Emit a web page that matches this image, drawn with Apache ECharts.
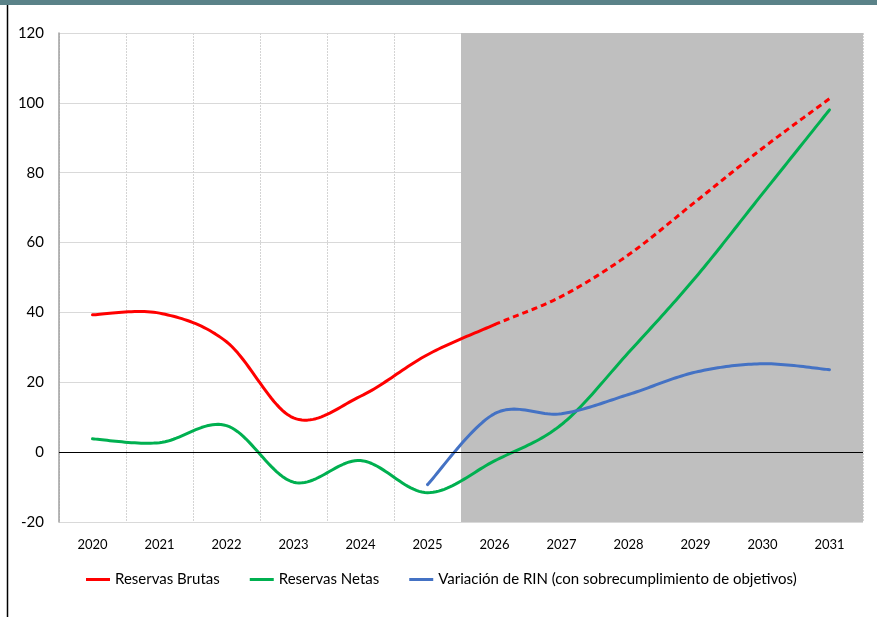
<!DOCTYPE html>
<html>
<head>
<meta charset="utf-8">
<script src="https://cdn.jsdelivr.net/npm/echarts@6/dist/echarts.min.js"></script>
<style>
  html, body { margin: 0; padding: 0; background: #ffffff; }
  #chart { width: 877px; height: 617px; }
</style>
</head>
<body>
<div id="chart"></div>
<script>
// Years on the horizontal axis
const years = ['2020', '2021', '2022', '2023', '2024', '2025', '2026', '2027', '2028', '2029', '2030', '2031'];
// First year of the projection period (shaded)
const projectionStart = '2026';
// Last observed year of gross reserves (solid line ends here, dashed after)
const brutasSolidEnd = '2026';

// Gross reserves
const reservasBrutas = [39.3, 39.8, 31.6, 9.8, 16.0, 27.9, 36.5, 44.6, 56.5, 71.7, 87.0, 101.2];
// Net reserves
const reservasNetas = [3.8, 2.7, 7.6, -8.6, -2.4, -11.6, -2.5, 7.9, 28.5, 50.0, 74.0, 98.0];
// Change in NIR (with over-compliance of targets)
const variacionRIN = [null, null, null, null, null, -9.3, 11.0, 11.0, 16.5, 22.9, 25.3, 23.6];

// Y axis range
const yMin = -20, yMax = 120, yStep = 20;

const font = 'Lato, "Open Sans", sans-serif';
const cut = years.indexOf(brutasSolidEnd);
const shadeFrom = years.indexOf(projectionStart);

// [index, value] pairs, skipping missing years
function toPairs(values) {
  const out = [];
  values.forEach((v, i) => { if (v !== null) out.push([i, v]); });
  return out;
}

// Sample a Catmull-Rom style cubic Bezier through pixel points,
// covering the segments from point `from` to point `to`.
function curvePoints(pts, from, to) {
  const n = pts.length;
  const out = [];
  const steps = 24;
  for (let i = from; i < to; i++) {
    const p0 = pts[i > 0 ? i - 1 : i];
    const p1 = pts[i];
    const p2 = pts[i + 1];
    const p3 = pts[i + 2 < n ? i + 2 : i + 1];
    const c1 = [p1[0] + (p2[0] - p0[0]) / 6, p1[1] + (p2[1] - p0[1]) / 6];
    const c2 = [p2[0] - (p3[0] - p1[0]) / 6, p2[1] - (p3[1] - p1[1]) / 6];
    for (let s = (i === from ? 0 : 1); s <= steps; s++) {
      const t = s / steps, u = 1 - t;
      const a = u * u * u, b = 3 * u * u * t, c = 3 * u * t * t, d = t * t * t;
      out.push([
        a * p1[0] + b * c1[0] + c * c2[0] + d * p2[0],
        a * p1[1] + b * c1[1] + c * c2[1] + d * p2[1]
      ]);
    }
  }
  return out;
}

// Smooth line drawn as a custom series; `dashFrom` marks where the dashed part begins
function smoothSeries(name, values, color, dashFrom) {
  const pairs = toPairs(values);
  return {
    name: name,
    type: 'custom',
    data: pairs,
    encode: { x: 0, y: 1 },
    z: 3,
    itemStyle: { color: color },
    renderItem: function (params, api) {
      if (params.dataIndex !== 0) return null;
      const pts = pairs.map(p => api.coord(p));
      const last = pts.length - 1;
      const split = dashFrom == null ? last : pairs.findIndex(p => p[0] === dashFrom);
      const children = [{
        type: 'polyline',
        silent: true,
        shape: { points: curvePoints(pts, 0, split) },
        style: { stroke: color, lineWidth: 3, fill: null, lineJoin: 'round', lineCap: 'round' }
      }];
      if (split < last) {
        children.push({
          type: 'polyline',
          silent: true,
          shape: { points: curvePoints(pts, split, last) },
          style: { stroke: color, lineWidth: 3, fill: null, lineDash: [6, 4], lineJoin: 'round' }
        });
      }
      return { type: 'group', children: children };
    }
  };
}

const chart = echarts.init(document.getElementById('chart'), null, { renderer: 'canvas' });

chart.setOption({
  animation: false,
  backgroundColor: '#ffffff',
  graphic: [
    { type: 'rect', left: 0, top: 0, shape: { width: 877, height: 5 }, style: { fill: '#5a8288' }, z: 10 },
    { type: 'line', shape: { x1: 7.5, y1: 5, x2: 7.5, y2: 617 }, style: { stroke: '#000000', lineWidth: 1.5 }, z: 10 }
  ],
  grid: { left: 59, right: 14, top: 33, bottom: 95, containLabel: false },
  legend: {
    left: 86,
    top: 572,
    padding: 0,
    itemWidth: 24,
    itemHeight: 3,
    itemGap: 30,
    icon: 'rect',
    textStyle: { fontFamily: font, fontSize: 15, color: '#000000' },
    data: ['Reservas Brutas', 'Reservas Netas', 'Variación de RIN (con sobrecumplimiento de objetivos)']
  },
  xAxis: [
    {
      type: 'category',
      data: years,
      boundaryGap: true,
      axisLine: { show: false },
      axisTick: { show: false },
      axisLabel: { fontFamily: font, fontSize: 13, color: '#000000', margin: 16 },
      splitLine: { show: true, lineStyle: { color: '#d4d4d4', type: [2, 1], width: 1 } }
    },
    {
      // band index scale used for the shaded projection area
      type: 'value',
      min: 0,
      max: years.length,
      show: false
    }
  ],
  yAxis: {
    type: 'value',
    min: yMin,
    max: yMax,
    interval: yStep,
    axisLine: { show: true, lineStyle: { color: '#a0a0a0', width: 1.5 } },
    axisTick: { show: false },
    axisLabel: { fontFamily: font, fontSize: 15, color: '#000000', margin: 15 },
    splitLine: { show: true, lineStyle: { color: '#d9d9d9', width: 1 } }
  },
  series: [
    {
      name: 'projection',
      type: 'line',
      xAxisIndex: 1,
      data: [],
      silent: true,
      z: 1,
      markArea: {
        silent: true,
        itemStyle: { color: '#bfbfbf' },
        data: [[{ xAxis: shadeFrom, yAxis: yMin }, { xAxis: years.length, yAxis: yMax }]]
      },
      markLine: {
        silent: true,
        symbol: ['none', 'none'],
        label: { show: false },
        lineStyle: { color: '#000000', width: 1, type: 'solid' },
        data: [{ yAxis: 0 }]
      }
    },
    smoothSeries('Reservas Brutas', reservasBrutas, '#ff0000', cut),
    smoothSeries('Reservas Netas', reservasNetas, '#00b050', null),
    smoothSeries('Variación de RIN (con sobrecumplimiento de objetivos)', variacionRIN, '#4472c4', null)
  ]
});
</script>
</body>
</html>
